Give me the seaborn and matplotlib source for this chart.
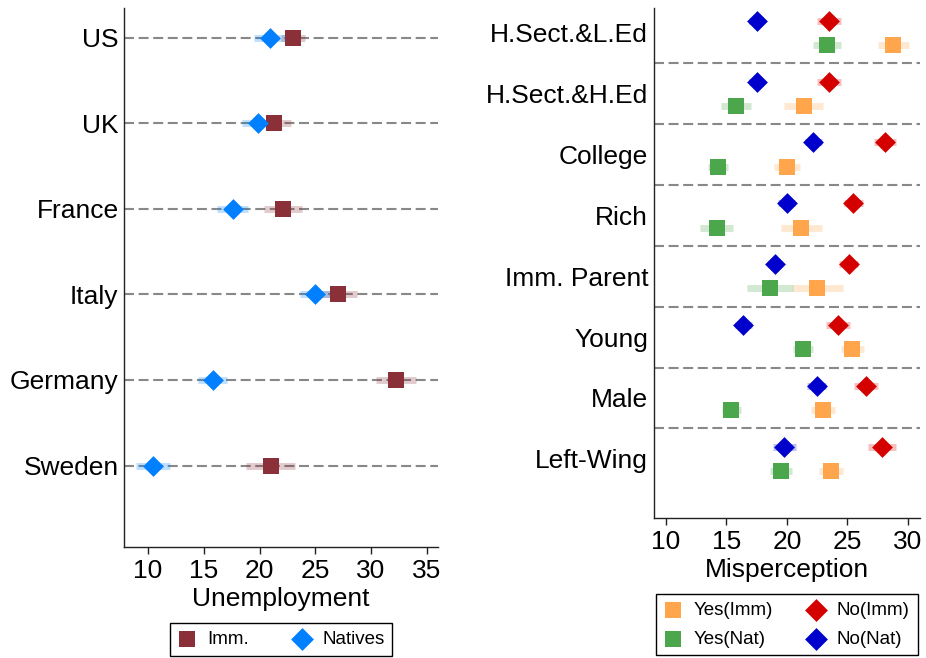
import numpy as np
import pandas as pd
import matplotlib.pyplot as plt
import seaborn as sns

# ---- left panel: unemployment by country ----
countries = ["US", "UK", "France", "Italy", "Germany", "Sweden"]
imm_unemp = [23.0, 21.3, 22.1, 27.0, 32.2, 21.0]
imm_ci = [1.1, 1.5, 1.7, 1.7, 1.8, 2.2]
nat_unemp = [20.9, 19.85, 17.6, 25.0, 15.8, 10.45]
nat_ci = [1.4, 1.4, 1.4, 1.4, 1.3, 1.55]

# ---- right panel: misperception by group ----
groups = ["H.Sect.&L.Ed", "H.Sect.&H.Ed", "College", "Rich",
          "Imm. Parent", "Young", "Male", "Left-Wing"]
yes_imm = [28.8, 21.4, 20.0, 21.2, 22.5, 25.4, 23.0, 23.65]
yes_imm_ci = [1.3, 1.6, 1.05, 1.7, 2.1, 0.95, 1.0, 1.0]
yes_nat = [23.3, 15.8, 14.3, 14.2, 18.6, 21.35, 15.4, 19.5]
yes_nat_ci = [1.15, 1.25, 0.8, 1.35, 1.9, 0.85, 0.8, 0.9]
no_imm = [23.5, 23.5, 28.1, 25.5, 25.1, 24.2, 26.55, 27.85]
no_imm_ci = [1.0, 1.0, 0.9, 0.8, 0.8, 1.0, 1.0, 1.15]
no_nat = [17.5, 17.5, 22.2, 20.0, 19.0, 16.4, 22.45, 19.8]
no_nat_ci = [0.6, 0.6, 0.7, 0.7, 0.6, 0.7, 0.8, 0.95]

sns.set_theme(style="ticks")
plt.rcParams['font.family'] = ['Liberation Sans', 'DejaVu Sans']
plt.rcParams.update({"text.color": "black", "axes.labelcolor": "black",
                     "xtick.color": "black", "ytick.color": "black",
                     "axes.edgecolor": "black"})

SQ = 121   # square marker area
DI = 112   # diamond marker area
CI_LW = 5.0
DASH = dict(color="#888888", lw=1.5, ls=(0, (4.8, 2.2)), zorder=0)


def draw_series(ax, x, ci, y, color, marker, size, label):
    x = np.asarray(x)
    ci = np.asarray(ci)
    ax.hlines(y, x - ci, x + ci, color=color, lw=CI_LW, alpha=0.25,
              capstyle="butt", zorder=2)
    sns.scatterplot(x=x, y=y, ax=ax, marker=marker, s=size, color=color,
                    linewidth=0, label=label, zorder=3)


def style_axis(ax, xlim, ylim, xticks):
    ax.set_xlim(*xlim)
    ax.set_ylim(*ylim)
    ax.set_xticks(xticks)
    for s in ["top", "right"]:
        ax.spines[s].set_visible(False)
    for s in ["left", "bottom"]:
        ax.spines[s].set_linewidth(1.0)
        ax.spines[s].set_color("#222222")
    ax.tick_params(axis="x", labelsize=19, length=5, width=1, color="#222222")
    ax.tick_params(axis="y", labelsize=19, length=0, pad=4)


def put_legend(ax, y_anchor, colsp, rowsp):
    leg = ax.legend(loc="upper center", bbox_to_anchor=(0.5, y_anchor), ncol=2,
                    fontsize=13.5, frameon=True, fancybox=False, edgecolor="black",
                    borderaxespad=0, handlelength=1.0, handletextpad=0.6,
                    columnspacing=colsp, borderpad=0.42, framealpha=1,
                    labelspacing=rowsp, markerscale=1.1)
    leg.get_frame().set_linewidth(1.0)


fig = plt.figure(figsize=(9.26, 6.58), dpi=100)

# left panel
ax1 = fig.add_axes([0.134, 0.169, 0.339, 0.819])
ypos = np.arange(len(countries))
for y in ypos:
    ax1.axhline(y, **DASH)
draw_series(ax1, imm_unemp, imm_ci, ypos, "#8B3039", "s", SQ, "Imm.")
draw_series(ax1, nat_unemp, nat_ci, ypos, "#0080FF", "D", DI, "Natives")
style_axis(ax1, (7.85, 36.0), (5.95, -0.35), [10, 15, 20, 25, 30, 35])
ax1.set_yticks(ypos)
ax1.set_yticklabels(countries)
ax1.set_xlabel("Unemployment", fontsize=19, labelpad=3)
ax1.set_ylabel("")
put_legend(ax1, -0.141, 2.3, 0.5)

# right panel
ax2 = fig.add_axes([0.706, 0.213, 0.2875, 0.775])
gpos = np.arange(len(groups))
for y in gpos[:-1]:
    ax2.axhline(y + 0.5, **DASH)
draw_series(ax2, yes_imm, yes_imm_ci, gpos + 0.2, "#FFA64D", "s", SQ, "Yes(Imm)")
draw_series(ax2, yes_nat, yes_nat_ci, gpos + 0.2, "#4CA64C", "s", SQ, "Yes(Nat)")
draw_series(ax2, no_imm, no_imm_ci, gpos - 0.2, "#D40000", "D", DI, "No(Imm)")
draw_series(ax2, no_nat, no_nat_ci, gpos - 0.2, "#0000CC", "D", DI, "No(Nat)")
style_axis(ax2, (9.0, 31.0), (7.97, -0.41), [10, 15, 20, 25, 30])
ax2.set_yticks(gpos)
ax2.set_yticklabels(groups)
ax2.set_xlabel("Misperception", fontsize=19, labelpad=3)
ax2.set_ylabel("")
put_legend(ax2, -0.149, 1.8, 0.62)

fig.savefig("out.png", dpi=100)
